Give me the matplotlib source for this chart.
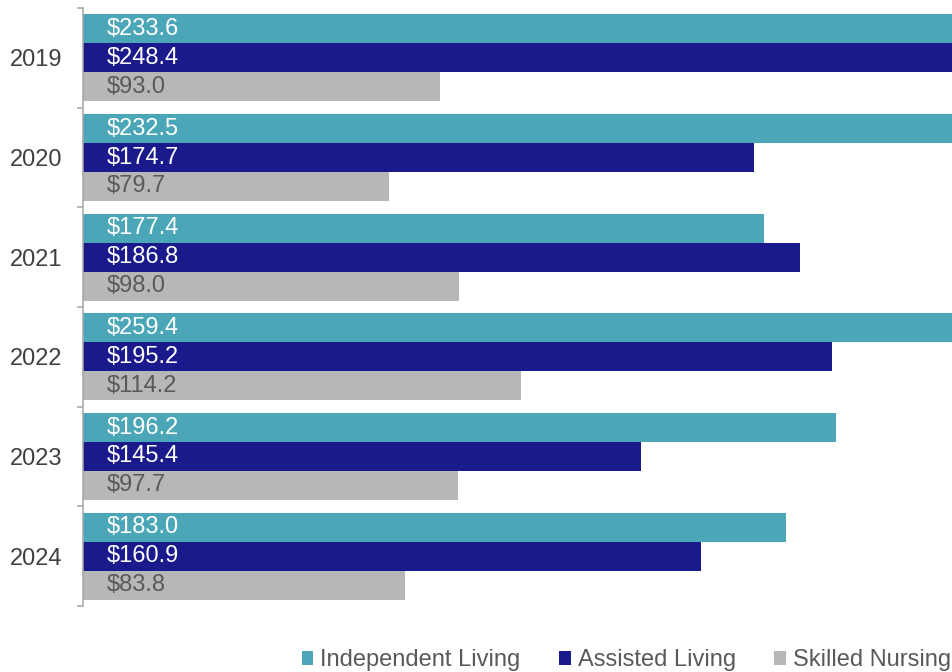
import numpy as np
import matplotlib.pyplot as plt

plt.rcParams['font.family'] = ['Liberation Sans', 'DejaVu Sans']

years = ["2019", "2020", "2021", "2022", "2023", "2024"]
independent = [233.6, 232.5, 177.4, 259.4, 196.2, 183.0]
assisted = [248.4, 174.7, 186.8, 195.2, 145.4, 160.9]
skilled = [93.0, 79.7, 98.0, 114.2, 97.7, 83.8]

series = [
    ("Independent Living", independent, "#4BA7B7", "white"),
    ("Assisted Living", assisted, "#1A1A8C", "white"),
    ("Skilled Nursing", skilled, "#B7B7B7", "#595959"),
]

fs = 17
fig = plt.figure(figsize=(9.53, 6.72), dpi=100)
ax = fig.add_axes([83 / 953, 1 - 606 / 672, 1 - 83 / 953, (606 - 8) / 672])

y = np.arange(len(years))
h = 0.29
for i, (name, vals, color, txt) in enumerate(series):
    pos = y + (i - 1) * h
    ax.barh(pos, vals, height=h, color=color, label=name)
    for p, v in zip(pos, vals):
        ax.text(6.2, p, f"${v:.1f}", color=txt, fontsize=fs,
                va="center", ha="left")

ax.set_xlim(0, 226.6)
ax.set_ylim(len(years) - 0.5, -0.5)
ax.set_xticks([])
ax.set_yticks(y)
ax.set_yticklabels(years, fontsize=fs, color="#404040")
ax.set_yticks(np.arange(-0.5, len(years)), minor=True)
ax.tick_params(axis="y", which="major", length=0, pad=15)
ax.tick_params(axis="y", which="minor", length=4.3, width=1.1, color="#A6A6A6")

for s in ["top", "right", "bottom"]:
    ax.spines[s].set_visible(False)
ax.spines["left"].set_color("#A6A6A6")
ax.spines["left"].set_linewidth(1.1)

leg = fig.legend(loc="lower right", bbox_to_anchor=(1.0105, -0.0165), ncol=3,
                 frameon=False, fontsize=fs, handlelength=0.5, handleheight=0.5,
                 handletextpad=0.3, columnspacing=1.62, borderaxespad=0.1)
for t in leg.get_texts():
    t.set_color("#595959")

fig.savefig("out.png", dpi=100)
